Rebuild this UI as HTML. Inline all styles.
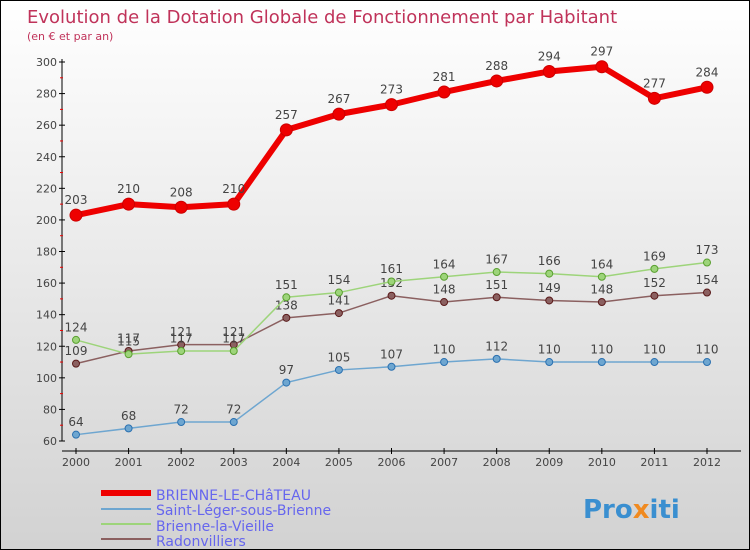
<!DOCTYPE html>
<html><head><meta charset="utf-8"><style>
body{margin:0;}
#c{width:750px;height:550px;position:relative;overflow:hidden;background:linear-gradient(#ffffff,#d2d2d2);font-family:"DejaVu Sans","Liberation Sans",sans-serif;box-sizing:border-box;border:1px solid #000;}
svg text{font-family:"DejaVu Sans","Liberation Sans",sans-serif;}
</style></head><body>
<div id="c">
<svg id="s" width="750" height="550">
<text x="26" y="22" font-size="18" fill="#c0335a">Evolution de la Dotation Globale de Fonctionnement par Habitant</text>
<text x="26" y="39" font-size="11" fill="#c0335a">(en € et par an)</text>
<line x1="61" y1="58" x2="61" y2="440" stroke="#000"/>
<line x1="61" y1="450" x2="740" y2="450" stroke="#000"/>
<g id="ax"></g><g id="ser"></g>
<g>
<line x1="100" y1="492" x2="150" y2="492" stroke="#ee0000" stroke-width="6"/>
<text x="155" y="499" font-size="14" fill="#6666ee">BRIENNE-LE-CHâTEAU</text>
<line x1="100" y1="508" x2="150" y2="508" stroke="#6ea6d0" stroke-width="2"/>
<text x="155" y="514" font-size="14" fill="#6666ee">Saint-Léger-sous-Brienne</text>
<line x1="100" y1="523" x2="150" y2="523" stroke="#9dd47a" stroke-width="2"/>
<text x="155" y="530" font-size="14" fill="#6666ee">Brienne-la-Vieille</text>
<line x1="100" y1="538" x2="150" y2="538" stroke="#8b6060" stroke-width="2"/>
<text x="155" y="545" font-size="14" fill="#6666ee">Radonvilliers</text>
</g>
<text x="582" y="517" font-size="26" font-weight="bold" fill="#3a8fd0">Pro<tspan fill="#f08a20">x</tspan>iti</text>
</svg></div>
<script>
const years=[2000,2001,2002,2003,2004,2005,2006,2007,2008,2009,2010,2011,2012];
const brienneChateau=[203,210,208,210,257,267,273,281,288,294,297,277,284];
const saintLeger=[64,68,72,72,97,105,107,110,112,110,110,110,110];
const brienneVieille=[124,115,117,117,151,154,161,164,167,166,164,169,173];
const radonvilliers=[109,117,121,121,138,141,152,148,151,149,148,152,154];
const yTicks=[60,80,100,120,140,160,180,200,220,240,260,280,300];
const NS="http://www.w3.org/2000/svg";
const X=i=>75+i*(706-75)/12;
const Y=v=>440-(v-60)*(440-61)/240;
function mk(t,a,p){const e=document.createElementNS(NS,t);for(const k in a)e.setAttribute(k,a[k]);p.appendChild(e);return e;}
const ax=document.getElementById('ax');
yTicks.forEach(v=>{
 const l=mk('line',{x1:58,x2:64,y1:Y(v),y2:Y(v),stroke:'#000'},ax);
 
 
 const t=mk('text',{x:56,y:Y(v)+4,'text-anchor':'end','font-size':11,fill:'#444'},ax);t.textContent=v;
 
 
 if(v<300){const m=mk('line',{x1:59,x2:62,y1:Y(v+10),y2:Y(v+10),stroke:'#e00'},ax);
 
 }
});
years.forEach((y,i)=>{
 const l=mk('line',{x1:X(i),x2:X(i),y1:447,y2:453,stroke:'#000'},ax);
 
 
 const t=mk('text',{x:X(i),y:465,'text-anchor':'middle','font-size':11,fill:'#444'},ax);t.textContent=y;
 
 
});
const ser=document.getElementById('ser');
function draw(vals,name,col,w,r,dark){
 const g=mk('g',{},ser);
 
 
 const p=mk('polyline',{points:vals.map((v,i)=>X(i)+','+Y(v)).join(' '),fill:'none',stroke:col,'stroke-width':w,'stroke-linejoin':'round'},g);
 
 
 vals.forEach((v,i)=>{
  const c=mk('circle',{cx:X(i),cy:Y(v),r:r,fill:col,stroke:dark,'stroke-width':1},g);
  
  
  const t=mk('text',{x:X(i),y:Y(v)-r-5,'text-anchor':'middle','font-size':12,fill:'#444'},g);t.textContent=v;
  
  
 });
}
draw(saintLeger,'saint-leger','#6ea6d0',1.5,3.5,'#2a70b0');
draw(radonvilliers,'radonvilliers','#8b6060',1.5,3.5,'#5a1a1a');
draw(brienneVieille,'brienne-la-vieille','#9dd47a',1.5,3.5,'#5aa030');
draw(brienneChateau,'brienne-le-chateau','#ee0000',6,6,'#cc0000');
</script>
</body></html>
